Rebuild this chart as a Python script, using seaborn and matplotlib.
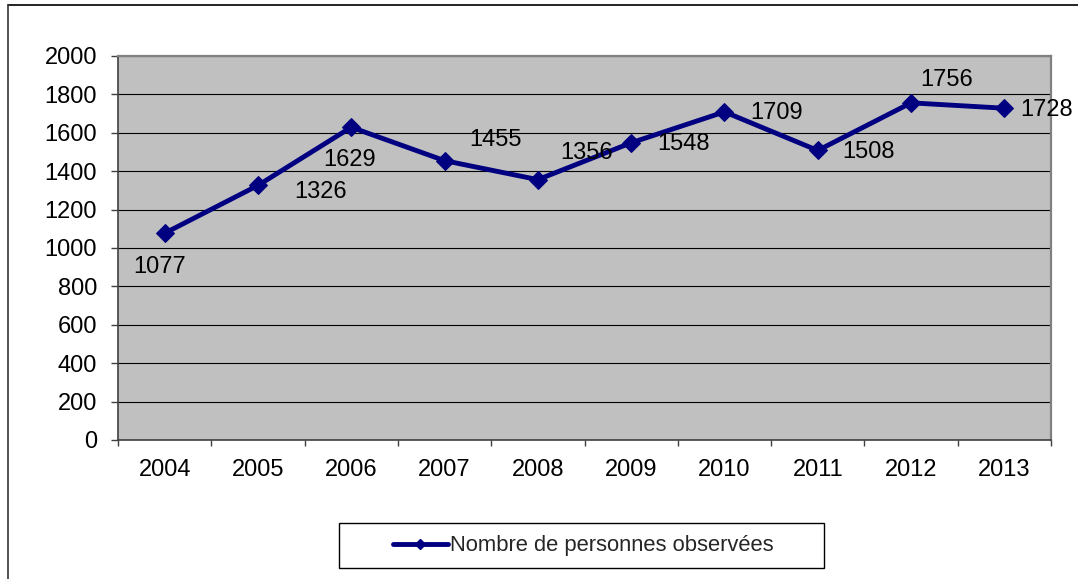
import matplotlib
matplotlib.use("Agg")
import matplotlib.pyplot as plt
import seaborn as sns
import pandas as pd
from matplotlib.patches import Rectangle
from matplotlib.lines import Line2D

years = ["2004", "2005", "2006", "2007", "2008", "2009", "2010", "2011", "2012", "2013"]
counts = [1077, 1326, 1629, 1455, 1356, 1548, 1709, 1508, 1756, 1728]
series_name = "Nombre de personnes observées"
y_ticks = [0, 200, 400, 600, 800, 1000, 1200, 1400, 1600, 1800, 2000]

# label offsets in pixels (layout only)
label_offsets = [(-5, -34), (63, -7), (-2, -33), (51, 21), (49, 27),
                 (52, -1), (52, -1), (51, -2), (36, 23), (42, -2)]

sns.set_theme(style="white")
plt.rcParams['font.family'] = ['Liberation Sans', 'DejaVu Sans']

W, H = 1078, 579
fig = plt.figure(figsize=(W / 100, H / 100), dpi=100)
ax = fig.add_axes([118 / W, 1 - 440 / H, (1051 - 118) / W, (440 - 56) / H])
ax.set_facecolor("#C0C0C0")

df = pd.DataFrame({"year": years, "count": counts})
navy = "#000080"
sns.lineplot(data=df, x="year", y="count", ax=ax, color=navy, linewidth=3.5,
             marker="D", markersize=9, markeredgecolor=navy, markerfacecolor=navy,
             sort=False, zorder=5)

FS = 17
ax.set_xlim(-0.5, len(years) - 0.5)
ax.set_ylim(0, 2000)
ax.set_yticks(y_ticks)
ax.set_yticklabels([str(v) for v in y_ticks], fontsize=FS)
ax.set_xticks(range(len(years)))
ax.set_xticklabels(years, fontsize=FS)
ax.set_xticks([i - 0.5 for i in range(len(years) + 1)], minor=True)
ax.tick_params(axis="x", which="major", length=0, pad=14, colors="black")
ax.tick_params(axis="x", which="minor", length=4.5, width=1, color="#404040", direction="out", bottom=True)
ax.tick_params(axis="y", which="major", length=5, width=1, color="#404040", direction="out", left=True, pad=10)
ax.tick_params(axis="y", labelcolor="black")
ax.set_xlabel("")
ax.set_ylabel("")

ax.grid(axis="y", color="#000000", linewidth=0.8)
ax.grid(axis="x", visible=False)
ax.set_axisbelow(True)

for s in ["top", "right"]:
    ax.spines[s].set_color("#808080")
    ax.spines[s].set_linewidth(1.6)
for s in ["left", "bottom"]:
    ax.spines[s].set_color("#404040")
    ax.spines[s].set_linewidth(1.2)

for i, (v, off) in enumerate(zip(counts, label_offsets)):
    ax.annotate(str(v), xy=(i, v), xytext=off, textcoords="offset pixels",
                ha="center", va="center", fontsize=FS, color="black", zorder=6,
                annotation_clip=False)

# outer chart border (top and left edges visible)
fig.lines.append(Line2D([7.5 / W, 1.0], [1 - 4.5 / H, 1 - 4.5 / H],
                        transform=fig.transFigure, color="black", linewidth=1.2))
fig.lines.append(Line2D([7.5 / W, 7.5 / W], [0, 1 - 4.5 / H],
                        transform=fig.transFigure, color="#333333", linewidth=1.2))

# legend frame
fig.patches.append(Rectangle((339 / W, 1 - 568 / H), (824 - 339) / W, (568 - 523) / H,
                             transform=fig.transFigure, fill=False,
                             edgecolor="black", linewidth=1.0))

handle = Line2D([], [], color=navy, linewidth=3.5, marker="D", markersize=5)
leg = fig.legend([handle], [series_name], loc="center left",
                 bbox_to_anchor=(393 / W, 1 - 546 / H),
                 fontsize=15.8, frameon=False,
                 handlelength=2.5, handletextpad=0.1, borderpad=0,
                 borderaxespad=0)

fig.savefig("out.png", dpi=100)
